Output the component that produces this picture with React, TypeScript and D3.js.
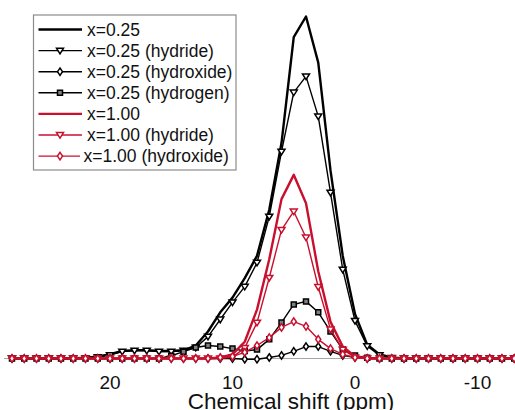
import React from 'react';
import * as d3 from 'd3';

// Chemical shift grid (ppm)
const ppm = [28, 27, 26, 25, 24, 23, 22, 21, 20, 19, 18, 17, 16, 15, 14, 13, 12, 11, 10, 9, 8, 7, 6, 5, 4, 3, 2, 1, 0, -1, -2, -3, -4, -5, -6, -7, -8, -9, -10, -11, -12, -13];

const x025Total = [0, 0, 0, 0, 0, 0, 0.2, 0.5, 1.3, 2.2, 2.4, 2.4, 2.2, 2.2, 2.4, 3.8, 7.9, 13.5, 17.8, 23.5, 30, 43.5, 63, 94, 100, 86.5, 55, 30, 13, 4, 1.2, 0.3, 0, 0, 0, 0, 0, 0, 0, 0, 0, 0];
const x025Hydride = [0, 0, 0, 0, 0, 0, 0.1, 0.4, 1.0, 2.0, 2.3, 2.3, 2.0, 2.0, 2.3, 3.2, 6.4, 11.4, 16.4, 21, 28, 41.5, 60.5, 77.8, 82.5, 70.8, 48.5, 26, 11, 3.6, 1.0, 0.2, 0, 0, 0, 0, 0, 0, 0, 0, 0, 0];
const x025Hydroxide = [0, 0, 0, 0, 0, 0, 0, 0, 0, 0, 0, 0, 0, 0, 0, 0, 0, 0, 0, -0.2, -0.2, 0.3, 0.9, 2.1, 3.5, 3.5, 2.1, 0.9, 0.3, 0, 0, 0, 0, 0, 0, 0, 0, 0, 0, 0, 0, 0];
const x025Hydrogen = [0, 0, 0, 0, 0, 0, 0, 0, 0, 0, 0, 0, 0, 0.8, 2.0, 3.2, 3.8, 3.5, 2.9, 2.2, 2.6, 5.6, 10.5, 15.8, 16.7, 13.5, 7.9, 2.6, 0.9, 0.2, 0, 0, 0, 0, 0, 0, 0, 0, 0, 0, 0, 0];
const x100Total = [0, 0, 0, 0, 0, 0, 0, 0, 0, 0, 0, 0, 0, 0, 0, 0, 0, 0.3, 1.2, 4.9, 14.3, 29, 46.6, 53.7, 45.4, 25.5, 10.7, 3.5, 0.6, 0, 0, 0, 0, 0, 0, 0, 0, 0, 0, 0, 0, 0];
const x100Hydride = [0, 0, 0, 0, 0, 0, 0, 0, 0, 0, 0, 0, 0, 0, 0, 0, 0, 0, 0.4, 3.1, 10.5, 23.6, 37.6, 43.0, 35.4, 20.9, 8.5, 2.6, 0.3, 0, 0, 0, 0, 0, 0, 0, 0, 0, 0, 0, 0, 0];
const x100Hydroxide = [0, 0, 0, 0, 0, 0, 0, 0, 0, 0, 0, 0, 0, 0, 0, 0, 0, 0.3, 0.6, 1.8, 3.8, 6.1, 9.1, 10.8, 9.4, 5.6, 2.9, 1.2, 0.3, 0, 0, 0, 0, 0, 0, 0, 0, 0, 0, 0, 0, 0];

const seriesNames = [
  'x=0.25',
  'x=0.25 (hydride)',
  'x=0.25 (hydroxide)',
  'x=0.25 (hydrogen)',
  'x=1.00',
  'x=1.00 (hydride)',
  'x=1.00 (hydroxide)',
];

const tickValues = [20, 10, 0, -10];
const tickLabels = ['20', '10', '0', '-10'];
const xTitle = 'Chemical shift (ppm)';

const BLACK = '#000000';
const RED = '#c8102e';
const FONT = '"Liberation Sans", Arial, Helvetica, sans-serif';

type MarkerKind = 'none' | 'tri' | 'dia' | 'sq';

function markerPath(kind: MarkerKind): string {
  if (kind === 'tri') return 'M-3.5,-2.4L3.5,-2.4L0,3.2Z';
  if (kind === 'dia') return 'M0,-3.7L2.5,0L0,3.7L-2.5,0Z';
  if (kind === 'sq') return 'M-2.5,-2.5L2.5,-2.5L2.5,2.5L-2.5,2.5Z';
  return '';
}

function Marker({ kind, color, cx, cy }: { kind: MarkerKind; color: string; cx: number; cy: number }) {
  if (kind === 'none') return null;
  const fill = kind === 'sq' ? '#808080' : '#ffffff';
  return (
    <path
      d={markerPath(kind)}
      transform={`translate(${cx},${cy})`}
      fill={fill}
      stroke={color}
      strokeWidth={1.5}
      strokeLinejoin="miter"
    />
  );
}

export default function App() {
  const x = d3.scaleLinear().domain([20, -10]).range([110, 477.5]);
  const y = d3.scaleLinear().domain([0, 100]).range([358.5, 16.5]);

  const series = [
    { name: seriesNames[0], values: x025Total, color: BLACK, width: 2.4, marker: 'none' as MarkerKind },
    { name: seriesNames[1], values: x025Hydride, color: BLACK, width: 1.4, marker: 'tri' as MarkerKind },
    { name: seriesNames[2], values: x025Hydroxide, color: BLACK, width: 1.4, marker: 'dia' as MarkerKind },
    { name: seriesNames[3], values: x025Hydrogen, color: BLACK, width: 1.4, marker: 'sq' as MarkerKind },
    { name: seriesNames[4], values: x100Total, color: RED, width: 2.4, marker: 'none' as MarkerKind },
    { name: seriesNames[5], values: x100Hydride, color: RED, width: 1.4, marker: 'tri' as MarkerKind },
    { name: seriesNames[6], values: x100Hydroxide, color: RED, width: 1.4, marker: 'dia' as MarkerKind },
  ];

  const line = d3
    .line<number>()
    .x((_, i) => x(ppm[i]))
    .y((v) => y(v))
    .curve(d3.curveLinear);

  const legendX = 33.5;
  const legendY = 15;
  const legendW = 202.5;
  const legendH = 155;
  const rowY0 = 29.5;
  const rowStep = 21.1;

  return (
    <svg
      width={515}
      height={410}
      style={{ position: 'absolute', left: 0, top: 0, background: '#ffffff' }}
      fontFamily={FONT}
    >
      <rect x={0} y={0} width={515} height={410} fill="#ffffff" />
      {/* x axis line */}
      <line x1={4} x2={515} y1={y(0)} y2={y(0)} stroke="#a6a6a6" strokeWidth={1} />

      {series.map((s) => (
        <g key={s.name}>
          <path d={line(s.values) || ''} fill="none" stroke={s.color} strokeWidth={s.width} strokeLinejoin="round" />
          {s.marker !== 'none' &&
            s.values.map((v, i) => (
              <Marker key={i} kind={s.marker} color={s.color} cx={x(ppm[i])} cy={y(v)} />
            ))}
        </g>
      ))}

      {/* tick labels */}
      {tickValues.map((t, i) => (
        <text key={t} x={x(t)} y={388.5} textAnchor="middle" fontSize={19} fill="#111">
          {tickLabels[i]}
        </text>
      ))}
      <text x={291} y={408.5} textAnchor="middle" fontSize={22.5} fill="#111">
        {xTitle}
      </text>

      {/* legend */}
      <rect x={legendX} y={legendY} width={legendW} height={legendH} fill="#ffffff" stroke="#8c8c8c" strokeWidth={1.2} />
      {series.map((s, i) => {
        const ry = rowY0 + i * rowStep;
        const last = i === series.length - 1;
        return (
          <g key={'lg' + s.name}>
            <line x1={38.5} x2={last ? 80 : 82} y1={ry} y2={ry} stroke={s.color} strokeWidth={s.width} />
            <Marker kind={s.marker} color={s.color} cx={60} cy={ry} />
            <text x={last ? 83.5 : 87} y={ry + 6.2} fontSize={17.5} fill="#111">
              {s.name}
            </text>
          </g>
        );
      })}
    </svg>
  );
}
